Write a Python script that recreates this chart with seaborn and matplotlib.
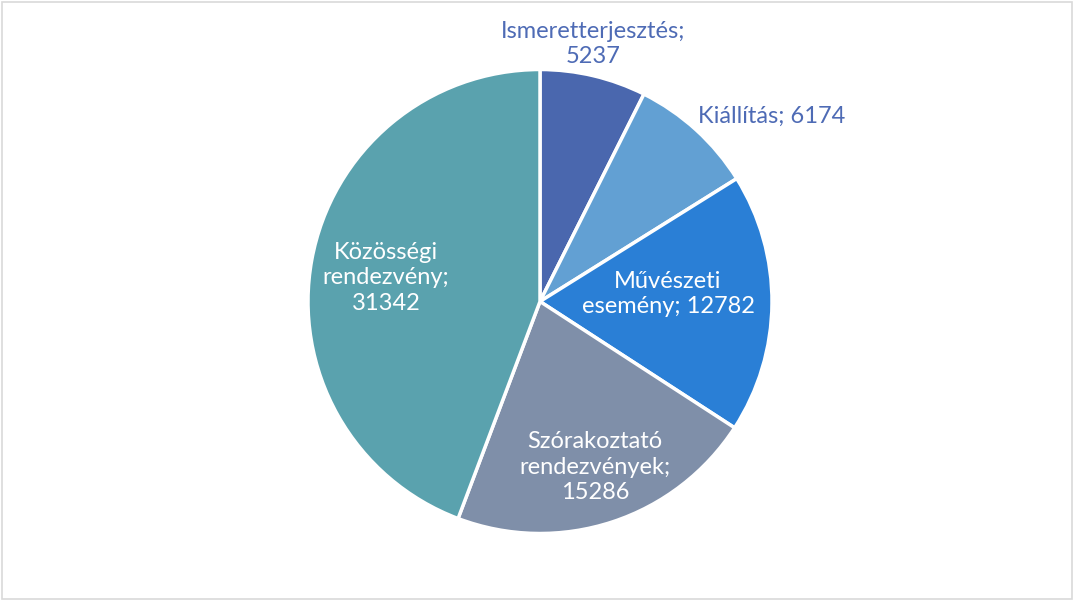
import seaborn as sns
import matplotlib.pyplot as plt
from matplotlib.patches import Rectangle

categories = ['Ismeretterjesztés', 'Kiállítás', 'Művészeti esemény',
              'Szórakoztató rendezvények', 'Közösségi rendezvény']
values = [5237, 6174, 12782, 15286, 31342]
colors = ['#4A67AE', '#62A0D3', '#2A7FD6', '#7F8FA9', '#5AA2AE']

# label text as shown in the chart (line breaks as in the original)
label_texts = ['Ismeretterjesztés;\n5237', 'Kiállítás; 6174', 'Művészeti\nesemény; 12782',
               'Szórakoztató\nrendezvények;\n15286', 'Közösségi\nrendezvény;\n31342']
label_pos = [(593, 556), (772, 484), (668, 306), (595, 133), (386, 322)]
label_colors = ['#4E6BB5', '#4E6BB5', 'white', 'white', 'white']

sns.set_theme(style='white')
plt.rcParams['font.family'] = ['Lato', 'DejaVu Sans']

fig = plt.figure(figsize=(10.74, 6), dpi=100)
ax = fig.add_axes([0, 0, 1, 1])
ax.set_xlim(0, 1074)
ax.set_ylim(0, 600)
ax.axis('off')

ax.pie(values, colors=colors, startangle=90, counterclock=False,
       center=(540, 298.5), radius=232, frame=True,
       wedgeprops=dict(edgecolor='white', linewidth=2.5))
ax.set_xlim(0, 1074)
ax.set_ylim(0, 600)
ax.set_aspect('equal')
ax.axis('off')

for txt, (x, y), c in zip(label_texts, label_pos, label_colors):
    ax.text(x, y, txt, ha='center', va='center', color=c, fontsize=17,
            linespacing=1.25)

fig.patches.append(Rectangle((0.002, 0.002), 0.996, 0.994, transform=fig.transFigure,
                             fill=False, edgecolor='#D9D9D9', linewidth=1.2))

fig.savefig('out.png', dpi=100, facecolor='white')
